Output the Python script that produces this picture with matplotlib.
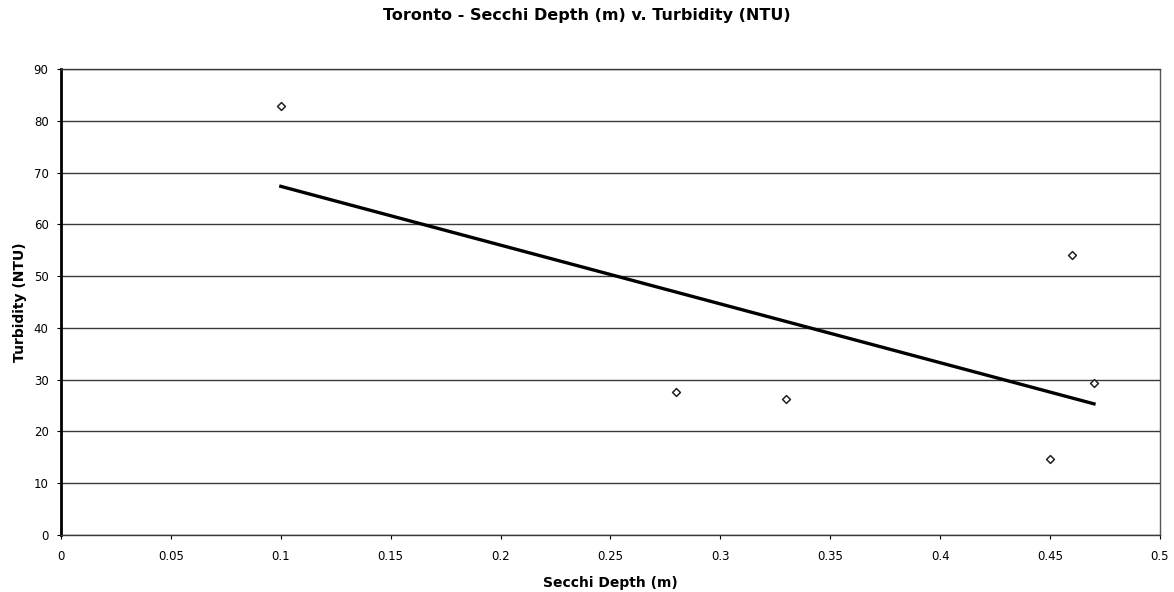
import numpy as np
import matplotlib
matplotlib.use("Agg")
import matplotlib.pyplot as plt

plt.rcParams['font.family'] = ['DejaVu Sans']

# Secchi depth (m) and turbidity (NTU) readings
secchi_depth = [0.10, 0.28, 0.33, 0.45, 0.46, 0.47]
turbidity = [82.9, 27.6, 26.2, 14.7, 54.1, 29.4]

x_ticks = [0, 0.05, 0.1, 0.15, 0.2, 0.25, 0.3, 0.35, 0.4, 0.45, 0.5]
x_tick_labels = ['0', '0.05', '0.1', '0.15', '0.2', '0.25', '0.3', '0.35', '0.4', '0.45', '0.5']
y_ticks = [0, 10, 20, 30, 40, 50, 60, 70, 80, 90]

fig = plt.figure(figsize=(11.74, 5.92), dpi=100)
ax = fig.add_axes([0.052, 0.0963, 0.936, 0.787])

ax.set_xlim(0, 0.5)
ax.set_ylim(0, 90)

for yv in y_ticks:
    ax.axhline(yv, color='#3a3a3a', lw=1.0, zorder=1)

ax.scatter(secchi_depth, turbidity, marker='D', s=16, facecolors='white',
           edgecolors='#222222', linewidths=1.1, zorder=3)

# linear trend through the readings
coef = np.polyfit(secchi_depth, turbidity, 1)
xs = np.array([min(secchi_depth), max(secchi_depth)])
ax.plot(xs, np.polyval(coef, xs), color='black', lw=2.4, zorder=2)

ax.set_xticks(x_ticks)
ax.set_xticklabels(x_tick_labels)
ax.set_yticks(y_ticks)
ax.tick_params(axis='both', labelsize=8.5, length=3, width=0.8, direction='out')
ax.tick_params(axis='x', pad=8)
ax.tick_params(axis='y', pad=6)

ax.spines['left'].set_linewidth(2.0)
ax.spines['left'].set_color('black')
ax.spines['bottom'].set_linewidth(1.0)
ax.spines['bottom'].set_color('#3a3a3a')
ax.spines['right'].set_linewidth(1.0)
ax.spines['right'].set_color('#555555')
ax.spines['right'].set_linestyle((0, (1, 1)))
ax.spines['top'].set_linewidth(1.0)
ax.spines['top'].set_color('#3a3a3a')

ax.set_xlabel('Secchi Depth (m)', fontsize=10, fontweight='bold', labelpad=9)
ax.set_ylabel('Turbidity (NTU)', fontsize=10, fontweight='bold', labelpad=5)
fig.suptitle('Toronto - Secchi Depth (m) v. Turbidity (NTU)', fontsize=11.5,
             fontweight='bold', y=0.986)

fig.savefig('out.png', dpi=100, facecolor='white')
